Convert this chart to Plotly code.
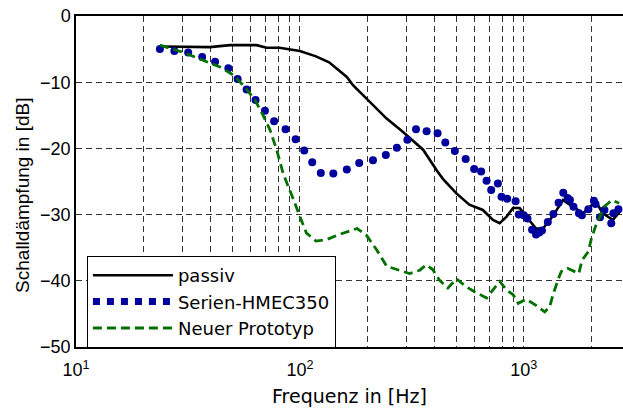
import plotly.graph_objects as go

# ---- data ----
passiv_f = [23.7, 30, 39.6, 48.7, 64, 71, 81, 100, 118, 135, 150, 162, 173, 185, 198, 244, 288, 355, 408,
            435, 500, 571, 656, 728, 780, 838, 895, 958, 1026, 1134, 1218, 1343, 1495, 1656, 1840, 2098,
            2250, 2500, 2680]
passiv_db = [-4.6, -4.6, -4.7, -4.4, -4.4, -4.8, -4.8, -5.3, -6.1, -7.0, -8.2, -9.2, -10.5, -11.5, -12.5,
             -15.5, -17.5, -20.2, -23.3, -24.6, -26.8, -28.5, -29.3, -30.8, -31.3, -30.3, -29.0, -29.0,
             -30.3, -32.1, -32.1, -30.3, -27.8, -28.8, -29.8, -28.0, -29.8, -30.8, -29.6]

serie_f = [23.7, 27.5, 31.7, 36.6, 41.8, 47.9, 52.7, 57.8, 63.4, 69.8, 76.7, 86.3, 95.7, 104.6, 113.5, 124,
           141, 162, 184, 212, 242, 271, 302, 330, 368, 412, 446, 492, 550, 600, 645, 682, 715, 766, 795,
           843, 919, 950, 1000, 1038, 1089, 1134, 1172, 1205, 1280, 1355, 1430, 1501, 1568, 1607, 1667,
           1763, 1817, 1942, 2056, 2090, 2189, 2292, 2458, 2513, 2646]
serie_db = [-5.0, -5.3, -5.5, -6.2, -6.9, -7.9, -9.5, -11.1, -12.7, -14.3, -15.9, -17.1, -18.6, -20.3, -22.1,
            -23.7, -23.8, -23.2, -22.2, -21.8, -21.0, -19.9, -18.7, -17.1, -17.4, -17.7, -19.1, -20.4, -21.6,
            -23.1, -23.5, -24.9, -26.3, -25.3, -27.3, -27.6, -28.0, -30.0, -30.1, -30.6, -32.3, -33.0, -32.7,
            -32.4, -31.1, -29.9, -28.2, -26.7, -27.5, -27.8, -28.8, -29.8, -30.1, -29.2, -27.9, -28.4, -30.4,
            -29.3, -31.3, -29.8, -29.2]

proto_f = [23.7, 29.5, 35.8, 43.9, 50.4, 56.7, 63, 68.5, 73.5, 78.7, 84.2, 90, 93, 100, 107, 118, 131, 150,
           180, 198, 220, 244, 280, 309, 343, 367, 392, 420, 458, 500, 553, 612, 682, 730, 781, 838, 896,
           944, 1026, 1134, 1240, 1305, 1350, 1420, 1470, 1568, 1670, 1760, 1820, 1940, 2005, 2090, 2190,
           2285, 2480, 2665]
proto_db = [-4.4, -5.4, -6.5, -7.7, -8.9, -10.7, -12.7, -15.0, -17.2, -20.2, -23.8, -26.5, -27.5, -30.3,
            -32.8, -34.0, -33.8, -33.0, -32.1, -33.1, -35.3, -37.8, -38.5, -38.9, -38.4, -37.6, -38.3, -39.9,
            -41.1, -39.7, -40.9, -41.8, -42.6, -41.4, -40.1, -41.4, -42.1, -43.4, -42.8, -43.7, -44.7, -43.9,
            -42.1, -39.9, -38.6, -38.1, -38.6, -38.9, -36.9, -35.6, -33.6, -31.8, -30.3, -28.8, -27.8, -28.3]

x_major = [10, 100, 1000]
x_major_text = ["10<sup>1</sup>", "10<sup>2</sup>", "10<sup>3</sup>"]
x_minor = [20, 30, 40, 50, 60, 70, 80, 90, 200, 300, 400, 500, 600, 700, 800, 900, 2000]
y_ticks = [0, -10, -20, -30, -40, -50]

names = ["passiv", "Serien-HMEC350", "Neuer Prototyp"]
blue = "#00009c"

fig = go.Figure()
fig.add_trace(go.Scatter(x=passiv_f, y=passiv_db, mode="lines", name=names[0],
                         line=dict(color="black", width=2.6)))
fig.add_trace(go.Scatter(x=serie_f, y=serie_db, mode="markers", name=names[1], showlegend=False,
                         legendgroup="serie", marker=dict(color=blue, size=8)))
# legend entry for the dotted series (no data, only the legend sample)
fig.add_trace(go.Scatter(x=[None], y=[None], mode="lines", name=names[1], legendgroup="serie",
                         line=dict(color=blue, width=7, dash="dot")))
fig.add_trace(go.Scatter(x=proto_f, y=proto_db, mode="lines", name=names[2],
                         line=dict(color="#007000", width=2.8, dash="9px,5px")))

grid = dict(gridcolor="#333333", gridwidth=1, griddash="6px,4px")

fig.update_layout(
    width=623, height=409,
    margin=dict(l=76, r=0, t=16, b=62),
    plot_bgcolor="white", paper_bgcolor="white",
    font=dict(family="Liberation Sans, Arial", size=16, color="black"),
    showlegend=True,
    legend=dict(x=0.02, y=0.275, xanchor="left", yanchor="top", tracegroupgap=0,
                bgcolor="white", bordercolor="black", borderwidth=1,
                font=dict(family="DejaVu Sans", size=18), itemwidth=80),
    xaxis=dict(type="log", range=[1, 3.443], tickvals=x_major, ticktext=x_major_text,
               showline=True, linecolor="black", linewidth=1.5, mirror=True, automargin=False,
               ticks="", ticklen=0, ticklabelstandoff=6, ticklabeloverflow="allow",
               showgrid=True, zeroline=False,
               minor=dict(tickvals=x_minor, showgrid=True, gridcolor="#333333", griddash="6px,4px", gridwidth=1),
               title=dict(text="Frequenz in [Hz]", font=dict(family="DejaVu Sans", size=19), standoff=10),
               tickfont=dict(size=18), **grid),
    yaxis=dict(range=[-50, 0], tickvals=y_ticks, showline=True, linecolor="black", linewidth=1.5,
               mirror=False, ticks="", ticklen=0, ticklabeloverflow="allow",
               showgrid=True, zeroline=False, automargin=False,
               tickfont=dict(size=18), **grid),
    annotations=[dict(text="Schalldämpfung in [dB]", textangle=-90, xref="paper", yref="paper",
                      x=-0.099, y=0.459, xanchor="center", yanchor="middle", showarrow=False,
                      font=dict(size=19))],
)

# remove the default page margin so the figure fills the window exactly
fig.write_html("out.html", config={"displayModeBar": False},
               post_script="document.body.style.margin='0';")
